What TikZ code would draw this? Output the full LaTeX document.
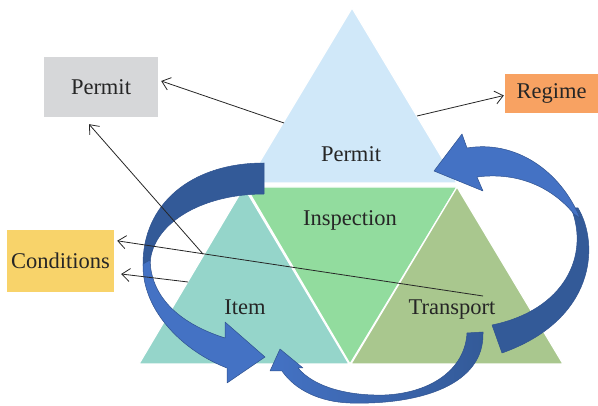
\documentclass[tikz,border=0pt]{standalone}
\usepackage{fontspec}
\setmainfont{Liberation Serif}
\usetikzlibrary{arrows.meta,calc}
\definecolor{tpermit}{HTML}{D0E8F9}
\definecolor{tinsp}{HTML}{92DC9E}
\definecolor{titem}{HTML}{95D5CA}
\definecolor{ttrans}{HTML}{A9C78E}
\definecolor{bgray}{HTML}{D6D7D9}
\definecolor{borange}{HTML}{F8A262}
\definecolor{byellow}{HTML}{F8D36A}
\definecolor{adark}{HTML}{335A98}
\definecolor{alight}{HTML}{4472C4}
\definecolor{aedge}{HTML}{2F528F}
\definecolor{ink}{HTML}{262626}
\begin{document}
\begin{tikzpicture}[x=1pt,y=-1pt,
  tri/.style={draw=white,line width=1.2pt,line join=miter},
  lbl/.style={font=\fontsize{22.5}{27}\selectfont,text=ink,anchor=base,inner sep=0pt},
  box/.style={font=\fontsize{22.5}{27}\selectfont,text=ink,inner sep=0pt},
  blk/.style={draw=aedge,line width=0.5pt,line join=round},
  link/.style={draw=ink,line width=0.8pt,-{Straight Barb[length=8pt,width=13pt]}}]
\useasboundingbox (0,0) rectangle (598,406);
% triangles
\path[tri,fill=tpermit] (352,8) -- (247,183) -- (457,183) -- cycle;
\path[tri,fill=titem] (244,187) -- (139,364) -- (349,364) -- cycle;
\path[tri,fill=tinsp] (246,187) -- (457,187) -- (350,364) -- cycle;
\path[tri,fill=ttrans] (457,187) -- (351,364) -- (563,364) -- cycle;
% labels
\node[lbl] (lpermit) at (351,162) {Permit};
\node[lbl] (linsp) at (350,226) {Inspection};
\node[lbl] (litem) at (245,315) {Item};
\node[lbl] (ltrans) at (452,315) {Transport};
% arrow A (left)
\path[blk,fill=adark] (264,163) .. controls (190,163) and (142,205) .. (143,266)
  -- (150,266) .. controls (150,225) and (200,194) .. (264,194) -- cycle;
\path[blk,fill=alight] (143,264) .. controls (142,312) and (185,352) .. (227,368)
  -- (227,383) -- (265,357) -- (225,322) -- (225,338)
  .. controls (175,322) and (151,294) .. (150,260) -- cycle;
% arrow B (right)
\path[blk,fill=adark] (578,208) .. controls (600,245) and (595,320) .. (502,353)
  -- (492,325) .. controls (565,310) and (590,255) .. (571,208) -- cycle;
\path[blk,fill=alight] (434,171) -- (462,134) -- (467,148)
  .. controls (515,140) and (560,170) .. (580,218) -- (574,214)
  .. controls (550,185) and (515,172) .. (477,177) -- (483,191) -- cycle;
% arrow C (bottom)
\path[blk,left color=alight,middle color=adark,right color=adark]
  (467,333) -- (483,332) .. controls (485,385) and (420,405) .. (350,403)
  .. controls (320,402) and (295,390) .. (282,371) -- (270,371) -- (280,349)
  -- (303,368) -- (298,368) .. controls (315,388) and (350,396) .. (385,395)
  .. controls (430,393) and (465,370) .. (467,333) -- cycle;
% boxes
\node[box,fill=bgray,minimum width=114pt,minimum height=60pt] (pbox) at (101,87) {Permit};
\node[box,fill=borange,minimum width=93pt,minimum height=39pt] (rbox) at (551.5,93.5) {Regime};
\node[box,fill=byellow,minimum width=107pt,minimum height=62pt] (cbox) at (60.5,261) {Conditions};
% links
\coordinate (s1) at (417,116);
\coordinate (s2) at (284,123);
\coordinate (s3) at (203,254);
\coordinate (s4) at (483,296);
\coordinate (s5) at (188,282);
\draw[link] (s1) -- ($(rbox.west)+(-1,2)$);
\draw[link] (s2) -- ($(pbox.east)+(3,-6)$);
\draw[link] (s3) -- ($(pbox.south)+(-12,7)$);
\draw[link] (s4) -- ($(cbox.north east)+(3,11)$);
\draw[link] (s5) -- ($(cbox.east)+(7,13)$);
\end{tikzpicture}
\end{document}
